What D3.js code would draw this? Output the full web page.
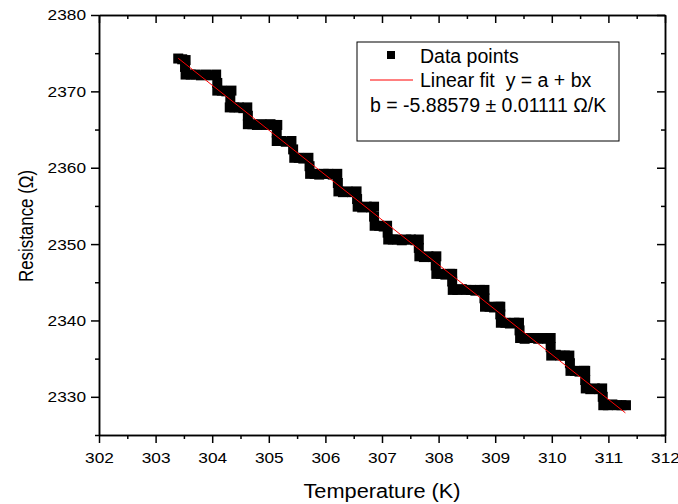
<!DOCTYPE html>
<html>
<head>
<meta charset="utf-8">
<script src="https://cdn.jsdelivr.net/npm/d3@7"></script>
<style>
  body { margin: 0; background: #fff; }
  text { font-family: "Liberation Sans", Arial, sans-serif; }
</style>
</head>
<body>
<div id="chart"></div>
<script>

var temperature = [
  303.40, 303.47, 303.53, 303.52,
  303.53, 303.62, 303.71, 303.80, 303.89, 303.98, 304.07, 304.09,
  304.09, 304.17, 304.25, 304.34, 304.32,
  304.31, 304.39, 304.47, 304.55, 304.62, 304.63,
  304.63, 304.71, 304.79, 304.87, 304.95, 305.03, 305.10, 305.15, 305.14,
  305.14, 305.22, 305.30, 305.40, 305.43,
  305.45, 305.53, 305.61, 305.70, 305.72,
  305.73, 305.81, 305.89, 305.97, 306.05, 306.13, 306.21, 306.22,
  306.23, 306.31, 306.39, 306.47, 306.55, 306.56,
  306.57, 306.65, 306.73, 306.81, 306.86, 306.86,
  306.87, 306.95, 307.03, 307.09, 307.10,
  307.11, 307.19, 307.27, 307.35, 307.43, 307.51, 307.59, 307.65, 307.65,
  307.66, 307.74, 307.82, 307.90, 307.96, 307.95,
  307.96, 308.04, 308.12, 308.20, 308.24, 308.24,
  308.25, 308.33, 308.41, 308.49, 308.57, 308.65, 308.73, 308.81, 308.81,
  308.82, 308.90, 308.98, 309.06, 309.09, 309.09,
  309.10, 309.18, 309.26, 309.34, 309.42, 309.43,
  309.44, 309.52, 309.60, 309.68, 309.76, 309.84, 309.92, 309.98, 309.98,
  309.99, 310.07, 310.15, 310.23, 310.31, 310.32,
  310.33, 310.41, 310.49, 310.57, 310.59, 310.59,
  310.60, 310.68, 310.76, 310.84, 310.89, 310.90,
  310.91, 310.99, 311.07, 311.15, 311.23, 311.31
];
var resistance = [
  2374.3, 2374.2, 2374.1, 2373.2,
  2372.2, 2372.2, 2372.2, 2372.1, 2372.2, 2372.1, 2372.2, 2371.1,
  2370.1, 2370.1, 2370.0, 2370.1, 2369.0,
  2367.9, 2367.9, 2367.9, 2367.8, 2367.9, 2366.8,
  2365.7, 2365.7, 2365.6, 2365.7, 2365.6, 2365.7, 2365.6, 2365.6, 2364.6,
  2363.5, 2363.5, 2363.4, 2363.5, 2362.4,
  2361.3, 2361.3, 2361.2, 2361.3, 2360.2,
  2359.2, 2359.2, 2359.1, 2359.2, 2359.2, 2359.1, 2359.2, 2358.0,
  2356.9, 2356.8, 2356.9, 2356.8, 2356.9, 2355.9,
  2354.9, 2354.8, 2354.9, 2354.8, 2354.9, 2353.6,
  2352.4, 2352.4, 2352.3, 2352.4, 2351.5,
  2350.6, 2350.6, 2350.6, 2350.5, 2350.6, 2350.6, 2350.5, 2350.6, 2349.5,
  2348.4, 2348.3, 2348.4, 2348.3, 2348.4, 2347.2,
  2346.1, 2346.1, 2346.0, 2346.1, 2346.1, 2345.1,
  2344.0, 2344.0, 2344.1, 2344.0, 2344.0, 2343.9, 2344.0, 2344.0, 2342.9,
  2341.8, 2341.8, 2341.7, 2341.8, 2341.8, 2340.8,
  2339.7, 2339.7, 2339.6, 2339.7, 2339.7, 2338.7,
  2337.7, 2337.6, 2337.7, 2337.7, 2337.6, 2337.7, 2337.6, 2337.7, 2336.5,
  2335.4, 2335.5, 2335.4, 2335.4, 2335.4, 2334.4,
  2333.4, 2333.4, 2333.3, 2333.4, 2333.4, 2332.2,
  2331.1, 2331.0, 2331.1, 2331.0, 2331.1, 2330.0,
  2328.9, 2328.9, 2329.0, 2328.9, 2328.9, 2328.9
];

// linear fit end points
var fitT = [303.40, 311.30];
var fitR = [2374.33, 2327.9];

var xTicks = [302, 303, 304, 305, 306, 307, 308, 309, 310, 311, 312];
var xMinor = [302.5, 303.5, 304.5, 305.5, 306.5, 307.5, 308.5, 309.5, 310.5, 311.5];
var yTicks = [2330, 2340, 2350, 2360, 2370, 2380];
var yMinor = [2325, 2335, 2345, 2355, 2365, 2375];

var legendLabels = ["Data points", "Linear fit \u00a0y = a + bx", "b = -5.88579 \u00b1 0.01111 \u03a9/K"];


var margin = {top: 15, right: 13, bottom: 69, left: 99},
    width = 678 - margin.left - margin.right,
    height = 504 - margin.top - margin.bottom;

var svg = d3.select("#chart")
  .append("svg")
    .attr("width", width + margin.left + margin.right)
    .attr("height", height + margin.top + margin.bottom)
  .append("g")
    .attr("transform", "translate(" + margin.left + "," + margin.top + ")");

var x = d3.scaleLinear()
  .domain([302, 312])
  .range([0, width]);

var y = d3.scaleLinear()
  .domain([2325, 2380])
  .range([height, 0]);

var data = temperature.map(function(t, i) { return {t: t, r: resistance[i]}; });

// data squares
svg.append("g")
  .selectAll("rect")
  .data(data)
  .enter()
  .append("rect")
    .attr("x", function(d) { return x(d.t) - 5; })
    .attr("y", function(d) { return y(d.r) - 5; })
    .attr("width", 10)
    .attr("height", 10)
    .attr("fill", "#000");

// fit line
svg.append("path")
  .datum(fitT.map(function(t, i) { return {t: t, r: fitR[i]}; }))
  .attr("fill", "none")
  .attr("stroke", "#ff0000")
  .attr("stroke-width", 1)
  .attr("d", d3.line()
    .x(function(d) { return x(d.t); })
    .y(function(d) { return y(d.r); }));

// axes: labelled bottom/left, ticks only top/right (inward)
function styleAxis(g) {
  g.selectAll("path, line").attr("stroke", "#000").attr("stroke-width", 1.5);
  g.selectAll("text")
    .style("font-size", "15.5px")
    .attr("fill", "#000")
    .attr("lengthAdjust", "spacingAndGlyphs")
    .attr("textLength", function(d) { return String(d).length * 9.6; });
}

svg.append("g")
  .attr("transform", "translate(0," + height + ")")
  .call(d3.axisBottom(x).tickValues(xMinor).tickSize(4).tickSizeOuter(0).tickFormat(""))
  .call(styleAxis);
svg.append("g")
  .attr("transform", "translate(0," + height + ")")
  .call(d3.axisBottom(x).tickValues(xTicks).tickSize(8).tickSizeOuter(0).tickPadding(9).tickFormat(d3.format("d")))
  .call(styleAxis);

svg.append("g")
  .call(d3.axisLeft(y).tickValues(yMinor).tickSize(4).tickSizeOuter(0).tickFormat(""))
  .call(styleAxis);
svg.append("g")
  .call(d3.axisLeft(y).tickValues(yTicks).tickSize(8).tickSizeOuter(0).tickPadding(5).tickFormat(d3.format("d")))
  .call(styleAxis);

svg.append("g")
  .call(d3.axisTop(x).tickValues(xMinor).tickSize(-4).tickSizeOuter(0).tickFormat(""))
  .call(styleAxis);
svg.append("g")
  .call(d3.axisTop(x).tickValues(xTicks).tickSize(-8).tickSizeOuter(0).tickFormat(""))
  .call(styleAxis);

svg.append("g")
  .attr("transform", "translate(" + width + ",0)")
  .call(d3.axisRight(y).tickValues(yMinor).tickSize(-4).tickSizeOuter(0).tickFormat(""))
  .call(styleAxis);
svg.append("g")
  .attr("transform", "translate(" + width + ",0)")
  .call(d3.axisRight(y).tickValues(yTicks).tickSize(-8).tickSizeOuter(0).tickFormat(""))
  .call(styleAxis);

// axis titles
svg.append("text")
    .style("font-size", "20px")
    .attr("x", width / 2)
    .attr("y", height + 62.5)
    .attr("textLength", 157)
    .attr("lengthAdjust", "spacingAndGlyphs")
    .style("text-anchor", "middle")
    .text("Temperature (K)");

svg.append("text")
    .style("font-size", "21px")
    .attr("transform", "rotate(-90)")
    .attr("x", -211)
    .attr("y", -66.5)
    .attr("textLength", 112)
    .attr("lengthAdjust", "spacingAndGlyphs")
    .style("text-anchor", "middle")
    .text("Resistance (\u03a9)");

// legend
var legend = svg.append("g")
    .attr("transform", "translate(" + (357 - margin.left) + "," + (42 - margin.top) + ")");

legend.append("rect")
    .attr("width", 262)
    .attr("height", 99)
    .attr("fill", "#fff")
    .attr("stroke", "#000")
    .attr("stroke-width", 1);

legend.append("rect")
    .attr("x", 30)
    .attr("y", 9)
    .attr("width", 8)
    .attr("height", 8)
    .attr("fill", "#000");

legend.append("line")
    .attr("x1", 13)
    .attr("x2", 56)
    .attr("y1", 38)
    .attr("y2", 38)
    .attr("stroke", "#ff0000")
    .attr("stroke-width", 1);

legend.append("text")
    .style("font-size", "19.5px")
    .attr("x", 63)
    .attr("y", 21)
    .text(legendLabels[0]);
legend.append("text")
    .style("font-size", "19.5px")
    .attr("x", 63)
    .attr("y", 45)
    .text(legendLabels[1]);
legend.append("text")
    .style("font-size", "19.5px")
    .attr("x", 13)
    .attr("y", 70)
    .text(legendLabels[2]);

</script>
</body>
</html>
